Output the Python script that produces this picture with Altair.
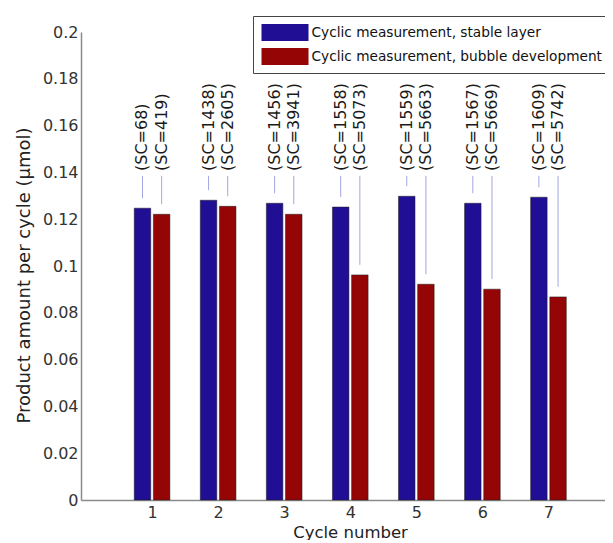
import altair as alt
import pandas as pd

cycles = [1, 2, 3, 4, 5, 6, 7]
series_names = ["Cyclic measurement, stable layer", "Cyclic measurement, bubble development"]
stable_values = [0.1247, 0.1281, 0.1268, 0.1252, 0.1298, 0.1268, 0.1294]
bubble_values = [0.1221, 0.1255, 0.1221, 0.0962, 0.0922, 0.0901, 0.0868]
stable_sc = [68, 1438, 1456, 1558, 1559, 1567, 1609]
bubble_sc = [419, 2605, 3941, 5073, 5663, 5669, 5742]
y_ticks = [0, 0.02, 0.04, 0.06, 0.08, 0.1, 0.12, 0.14, 0.16, 0.18, 0.2]

BAR_OFFSET = 0.145
LABEL_Y = 0.1406
LINE_TOP = 0.1385
LINE_GAP = 0.0043

rows = []
for i, c in enumerate(cycles):
    for s, (vals, scs, off) in enumerate([(stable_values, stable_sc, -BAR_OFFSET),
                                           (bubble_values, bubble_sc, BAR_OFFSET)]):
        rows.append({
            "cycle": c,
            "pos": c + off,
            "series": series_names[s],
            "value": vals[i],
            "label": f"(SC={scs[i]})",
            "label_y": LABEL_Y,
            "line_top": LINE_TOP,
            "line_bottom": vals[i] + LINE_GAP,
        })
df = pd.DataFrame(rows)

FONT = "DejaVu Sans"
x_scale = alt.Scale(domain=[0, 7.78], nice=False, zero=False)
y_scale = alt.Scale(domain=[0, 0.2], nice=False)

base = alt.Chart(df)

bars = base.mark_bar(size=16.5, stroke="#1a1a1a", strokeWidth=0.5).encode(
    x=alt.X("pos:Q", scale=x_scale,
            axis=alt.Axis(values=cycles, format="d", title="Cycle number",
                          ticks=False, labelPadding=4, labelFontSize=16,
                          titleFontSize=16.5, titleX=269, titleY=37,
                          titleBaseline="alphabetic")),
    y=alt.Y("value:Q", scale=y_scale,
            axis=alt.Axis(values=y_ticks, format="~g", title="Product amount per cycle (µmol)",
                          ticks=False, labelPadding=3, labelFontSize=16,
                          titleFontSize=18, titleX=-57, titleY=243,
                          titleBaseline="middle")),
    color=alt.Color("series:N",
                    scale=alt.Scale(domain=series_names, range=["#200f94", "#960505"]),
                    legend=alt.Legend(title=None, orient="none", legendX=172, legendY=-16,
                                      symbolType="M-2.765,-1L2.765,-1L2.765,1L-2.765,1Z",
                                      symbolSize=289, symbolStrokeWidth=0,
                                      symbolOpacity=1, symbolOffset=15.5,
                                      labelFont=FONT, labelFontSize=13.7, labelColor="#111",
                                      labelOffset=18, rowPadding=7, padding=8,
                                      strokeColor="#444", fillColor="white",
                                      labelLimit=400)),
)

lines = base.mark_rule(color="#a3a7e2", strokeWidth=1).encode(
    x=alt.X("pos:Q", scale=x_scale),
    y=alt.Y("line_top:Q", scale=y_scale),
    y2="line_bottom:Q",
)

labels = base.mark_text(angle=270, align="left", baseline="middle",
                        font=FONT, fontSize=16, color="#1a1a1a").encode(
    x=alt.X("pos:Q", scale=x_scale),
    y=alt.Y("label_y:Q", scale=y_scale),
    text="label:N",
)

chart = alt.layer(bars, lines, labels).properties(
    width=524, height=468,
    padding={"left": 73, "top": 24, "right": 0, "bottom": 40},
    autosize=alt.AutoSizeParams(type="none"),
    background="white",
).configure_view(stroke=None).configure_axis(
    domainColor="#8a8a8a", domainWidth=1.5, grid=False,
    labelFont=FONT, titleFont=FONT, labelColor="#333", titleColor="#222",
    titleFontWeight="normal",
)

chart.save("out.html", embed_options={"renderer": "svg", "actions": False})
